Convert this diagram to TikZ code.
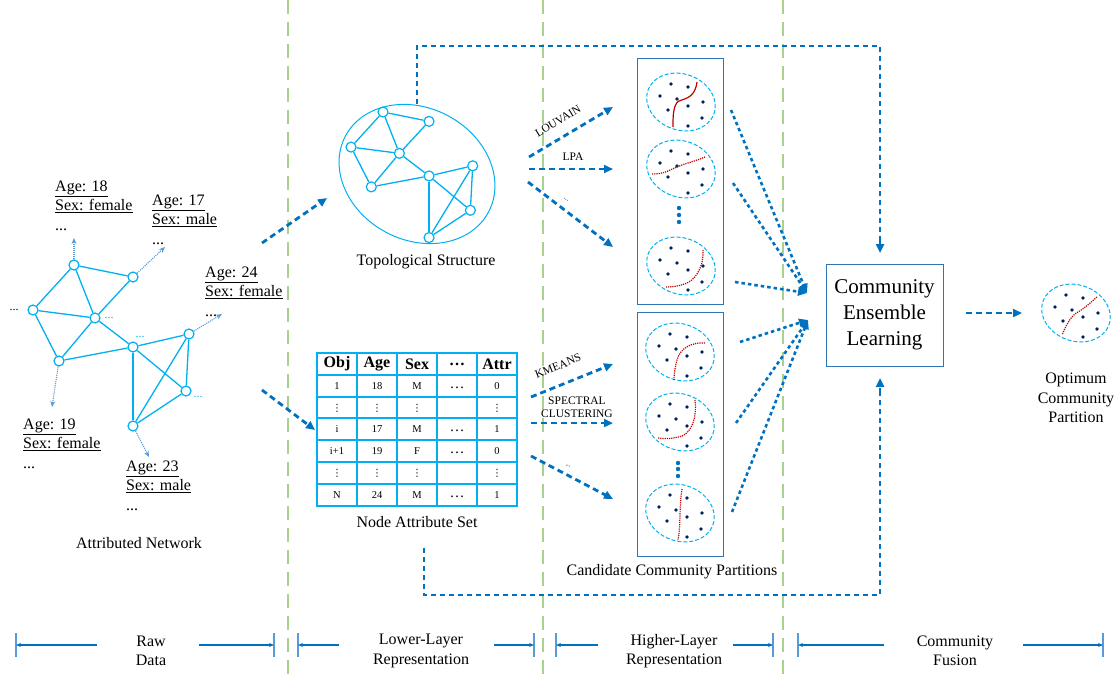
\documentclass[tikz,border=0pt]{standalone}
\usepackage{fontspec}
\setmainfont{Liberation Serif}
\newfontfamily\symfont{DejaVu Sans}
\usetikzlibrary{arrows.meta,shapes.geometric}

\definecolor{flowblue}{RGB}{0,112,192}
\definecolor{netblue}{RGB}{0,176,240}
\definecolor{attrblue}{RGB}{91,155,213}
\definecolor{boxblue}{RGB}{46,117,182}
\definecolor{sepgreen}{RGB}{169,209,142}
\definecolor{dotnavy}{RGB}{0,32,96}
\definecolor{cutred}{RGB}{192,0,0}

\tikzset{
  vtx/.style={circle,draw=netblue,fill=white,line width=1.2pt,inner sep=0pt,minimum size=10pt},
  netedge/.style={draw=netblue,line width=1.3pt},
  attrarrow/.style={draw=attrblue,line width=1.1pt,densely dotted,-{Stealth[length=6pt,width=5pt]}},
  flow/.style={draw=flowblue,line width=2.8pt,dash pattern=on 6pt off 4pt,-{Triangle[length=9pt,width=8pt]}},
  dotflow/.style={draw=flowblue,line width=2.6pt,dash pattern=on 3.5pt off 3pt,-{Triangle[length=9pt,width=8pt]}},
  loopflow/.style={draw=flowblue,line width=2.8pt,dash pattern=on 5pt off 4pt},
  partbox/.style={draw=boxblue,line width=1pt},
  partell/.style={ellipse,draw=netblue,line width=1pt,dash pattern=on 4pt off 2pt,inner sep=0pt,minimum width=70pt,minimum height=56pt,rotate=-20},
  cut/.style={draw=cutred,line width=1.2pt},
  sepline/.style={draw=sepgreen,line width=1.4pt,dash pattern=on 14pt off 8pt},
  spanarrow/.style={draw=flowblue,line width=1.1pt,-{Stealth[length=5pt,width=4pt]}},
  spanbar/.style={draw=attrblue,line width=1.3pt},
  lbltext/.style={font=\fontsize{16}{19.5}\selectfont,align=center,inner sep=0pt},
  attrlbl/.style={font=\fontsize{16}{19.5}\selectfont,align=left,anchor=base west,inner sep=0pt},
  algo/.style={font=\fontsize{11.5}{13.5}\selectfont,align=center,inner sep=0pt},
  tabline/.style={draw=netblue,line width=1.3pt},
  tabhead/.style={font=\fontsize{16}{16}\selectfont\bfseries,inner sep=0pt},
  tabcell/.style={font=\fontsize{10.5}{11}\selectfont,inner sep=0pt},
  netdots/.style={text=netblue,font=\fontsize{12}{12}\selectfont,inner sep=0pt},
}

% network with nine vertices
\newcommand{\netgraph}[1]{%
  \foreach \i/\px/\py in {1/74/265,2/133/277,3/33/310,4/95/318,5/59/361,6/133/347,7/189/334,8/186/391,9/133/426}
    \node[vtx] (#1\i) at (\px,\py) {};
  \foreach \a/\b in {1/2,1/3,1/4,2/4,3/4,3/5,4/5,4/6,5/6,6/7,6/8,6/9,7/8,7/9,8/9}
    \draw[netedge] (#1\a) -- (#1\b);
}

% nine members of a partition
\newcommand{\cellpts}{%
  \foreach \dx/\dy in {-10/-18,7/-15,-21/-6,-4/-3,22/0,-13/8,7/4,21/16,7/24}
    \fill[dotnavy] (\dx,\dy) circle (1.8pt);
}
\newcommand{\vd}{{\symfont\fontsize{10}{10}\selectfont ⋮}}

\begin{document}
\begin{tikzpicture}[x=1pt,y=-1pt]
\useasboundingbox (0,0) rectangle (1120,677);

% stage separators
\foreach \x in {288,543,783} \draw[sepline] (\x,0) -- (\x,677);

% attributed network
\netgraph{n}
\node[inner sep=0pt,font=\fontsize{12}{12}\selectfont] (nd3) at (14,310) {...};
\node[netdots] (nd4) at (109,318) {...};
\node[netdots] (nd6) at (140,337) {...};
\node[netdots] (nd8) at (198,397) {...};

\coordinate (a1) at (74,238);
\coordinate (a2) at (165,247);
\coordinate (a7) at (222,314);
\coordinate (a5) at (52,407);
\coordinate (a9) at (149,457);
\draw[attrarrow] (n1) -- (a1);
\draw[attrarrow] (n2) -- (a2);
\draw[attrarrow] (n7) -- (a7);
\draw[attrarrow] (n5) -- (a5);
\draw[attrarrow] (n9) -- (a9);

% labels sit on the baseline of their last line
\node[attrlbl] (l1) at (55,230) {\underline{Age: 18}\\\underline{Sex: female}\\...};
\node[attrlbl] (l2) at (152,244) {\underline{Age: 17}\\\underline{Sex: male}\\...};
\node[attrlbl] (l7) at (205,316) {\underline{Age: 24}\\\underline{Sex: female}\\...};
\node[attrlbl] (l5) at (23,468) {\underline{Age: 19}\\\underline{Sex: female}\\...};
\node[attrlbl] (l9) at (126,510) {\underline{Age: 23}\\\underline{Sex: male}\\...};
\node[lbltext] (rawname) at (139,543) {Attributed Network};

% topological structure
\node[ellipse,draw=netblue,line width=1pt,inner sep=0pt,minimum width=162pt,minimum height=132pt,rotate=-28] (topo) at (417,174) {};
\begin{scope}[shift={(325.3,-94.7)},scale=0.78]
  \netgraph{t}
\end{scope}
\node[lbltext] (toponame) at (426,262) {Topological Structure};

% node attribute set
\draw[tabline] (317,353) rectangle (517,506);
\foreach \x in {357,397,437,477} \draw[tabline] (\x,353) -- (\x,506);
\foreach \y in {375,397,418,440,462,484} \draw[tabline] (317,\y) -- (517,\y);
\foreach \c/\t in {1/Obj,2/Age,3/Sex,4/\ldots,5/Attr}
  \node[tabhead] (hd\c) at ({297+40*\c},364) {\t};
\foreach \rw/\y/\va/\vb/\vc/\vdd/\ve in {1/386/1/18/M/\ldots/0,2/408/\vd/\vd/\vd/{}/\vd,3/429/i/17/M/\ldots/1,4/451/i+1/19/F/\ldots/0,5/473/\vd/\vd/\vd/{}/\vd,6/495/N/24/M/\ldots/1}
{
  \node[tabcell] (r\rw c1) at (337,\y) {\va};
  \node[tabcell] (r\rw c2) at (377,\y) {\vb};
  \node[tabcell] (r\rw c3) at (417,\y) {\vc};
  \node[tabcell,font=\fontsize{15}{15}\selectfont] (r\rw c4) at (457,\y+2) {\vdd};
  \node[tabcell] (r\rw c5) at (497,\y) {\ve};
}
\node[lbltext] (tabname) at (417,522) {Node Attribute Set};

% raw data to representations
\coordinate (raw-out-a) at (262,243);
\coordinate (topo-in) at (327,198);
\coordinate (raw-out-b) at (262,390);
\coordinate (tab-in) at (315,430);
\draw[flow] (raw-out-a) -- (topo-in);
\draw[flow] (raw-out-b) -- (tab-in);

% candidate partitions
\draw[partbox] (637,59) rectangle (723,304);
\draw[partbox] (637,312) rectangle (723,556);
\node[partell] (c1) at (681,102) {};
\node[partell] (c2) at (681,169) {};
\node[partell] (c3) at (681,266) {};
\node[partell] (c4) at (680,352) {};
\node[partell] (c5) at (680,422) {};
\node[partell] (c6) at (680,513) {};
\foreach \c in {c1,c2,c3,c4,c5,c6}
  \begin{scope}[shift={(\c)}] \cellpts \end{scope};
\begin{scope}[shift={(c1)}]
  \draw[cut] (16,-20) .. controls (14,-5) and (6,-4) .. (-2,-1) .. controls (-8,2) and (-8,15) .. (-8,25);
\end{scope}
\begin{scope}[shift={(c2)}]
  \draw[cut,densely dotted] (-29,5) .. controls (-15,5) and (-10,0) .. (-4,-2) .. controls (5,-6) and (15,-8) .. (24,-12);
\end{scope}
\begin{scope}[shift={(c3)}]
  \draw[cut,densely dotted] (22,-16) .. controls (23,0) and (15,12) .. (8,16) .. controls (0,20) and (-8,21) .. (-15,21);
\end{scope}
\begin{scope}[shift={(c4)}]
  \draw[cut,densely dotted] (25,-9) .. controls (12,-10) and (0,-4) .. (-3,8) .. controls (-5,15) and (-6,22) .. (-6,28);
\end{scope}
\begin{scope}[shift={(c5)}]
  \draw[cut,densely dotted] (15,-22) .. controls (17,-5) and (12,10) .. (2,14) .. controls (-8,17) and (-16,17) .. (-22,16);
\end{scope}
\begin{scope}[shift={(c6)}]
  \draw[cut,densely dotted] (2,-24) .. controls (-1,-5) and (1,10) .. (-2,27);
\end{scope}
\foreach \y in {208,215,222} \fill[flowblue] (679,\y) circle (2.2pt);
\foreach \y in {463,469,476} \fill[flowblue] (678,\y) circle (2.2pt);
\node[lbltext] (candname) at (672,572) {Candidate Community Partitions};

% detection algorithms
\coordinate (lv-s) at (529,157); \coordinate (lv-e) at (613,107);
\coordinate (lp-s) at (529,169); \coordinate (lp-e) at (613,169);
\coordinate (ot-s) at (528,182); \coordinate (ot-e) at (613,247);
\coordinate (km-s) at (531,397); \coordinate (km-e) at (613,364);
\coordinate (sc-s) at (531,423); \coordinate (sc-e) at (613,423);
\coordinate (oc-s) at (531,456); \coordinate (oc-e) at (613,499);
\draw[flow] (lv-s) -- (lv-e);
\draw[flow] (lp-s) -- (lp-e);
\draw[flow] (ot-s) -- (ot-e);
\draw[flow] (km-s) -- (km-e);
\draw[flow] (sc-s) -- (sc-e);
\draw[flow] (oc-s) -- (oc-e);
\node[algo,rotate=31] (louvain) at (558,121) {LOUVAIN};
\node[algo] (lpa) at (573,157) {LPA};
\node[algo,rotate=-37,font=\fontsize{7}{7}\selectfont] (otherA) at (566,200) {...};
\node[algo,rotate=22] (kmeans) at (558,366) {KMEANS};
\node[algo] (spectral) at (577,407) {SPECTRAL\\CLUSTERING};
\node[algo,rotate=-28,font=\fontsize{7}{7}\selectfont] (otherB) at (568,466) {...};

% ensemble learning
\node[draw=boxblue,line width=1pt,minimum width=117pt,minimum height=102pt,align=center,inner sep=0pt,font=\fontsize{21}{26}\selectfont] (ens) at (884.5,315) {Community\\Ensemble\\Learning};
\coordinate (ens-a) at (807,293);
\coordinate (ens-b) at (808,320);
\draw[dotflow] (731,110) -- (ens-a);
\draw[dotflow] (733,183) -- (ens-a);
\draw[dotflow] (735,282) -- (ens-a);
\draw[dotflow] (740,342) -- (ens-b);
\draw[dotflow] (736,423) -- (ens-b);
\draw[dotflow] (732,512) -- (ens-b);

% feedback of the two representations
\coordinate (topo-top) at (417,104);
\coordinate (ens-top) at (880,253);
\draw[loopflow] (topo-top) -- (417,46) -- (880,46) -- (880,240);
\draw[flow] (880,238) -- (ens-top);
\coordinate (tab-bot) at (424,548);
\coordinate (ens-bot) at (880,378);
\draw[loopflow] (tab-bot) -- (424,595) -- (880,595) -- (880,392);
\draw[flow] (880,394) -- (ens-bot);

% optimum partition
\coordinate (opt-in) at (1022,313);
\coordinate (ens-out) at (966,313);
\draw[flow] (ens-out) -- (opt-in);
\node[partell] (opt) at (1076,313) {};
\begin{scope}[shift={(opt)}]
  \cellpts
  \draw[cut,densely dotted] (21,-16) .. controls (12,-8) and (6,-3) .. (2,-1) .. controls (-4,2) and (-9,10) .. (-14,22);
\end{scope}
\node[lbltext] (optname) at (1076,398) {Optimum\\Community\\Partition};

% stage spans
\foreach \nm/\xa/\xb/\xc/\xd/\xm/\txt in {raw/16/97/199/274/151/{Raw\\Data},low/298/339/494/534/421/{Lower-Layer\\Representation},high/556/598/733/773/674/{Higher-Layer\\Representation},fus/798/884/1023/1103/955/{Community\\Fusion}}
{
  \node[lbltext] (span-\nm) at (\xm,651) {\txt};
  \coordinate (\nm-l) at (\xa,645);
  \coordinate (\nm-r) at (\xd,645);
  \draw[spanbar] (\xa,633) -- (\xa,657);
  \draw[spanbar] (\xd,633) -- (\xd,657);
  \draw[spanarrow] (\xb,645) -- (\nm-l);
  \draw[spanarrow] (\xc,645) -- (\nm-r);
}
\end{tikzpicture}
\end{document}
